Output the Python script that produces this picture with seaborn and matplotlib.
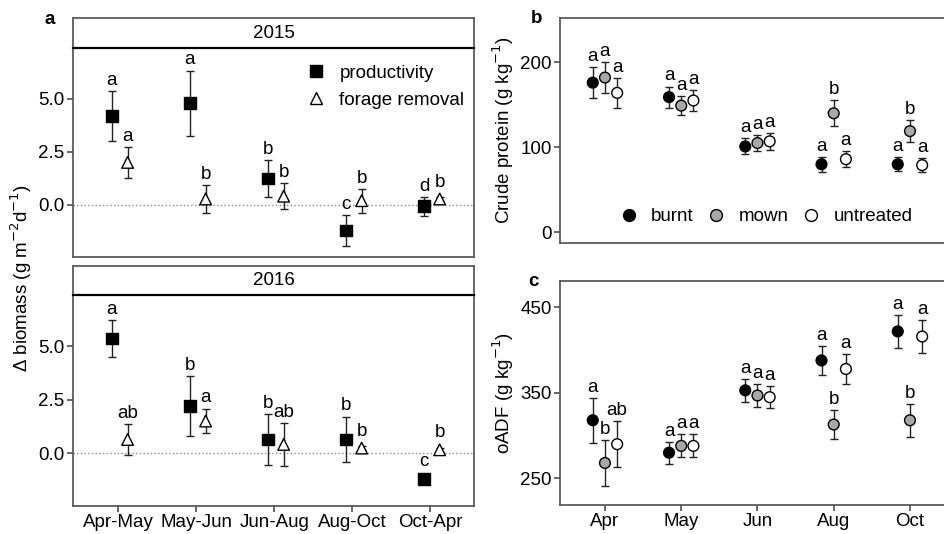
import numpy as np
import pandas as pd
import matplotlib
matplotlib.use("Agg")
import matplotlib.pyplot as plt
import seaborn as sns

periods = ["Apr-May", "May-Jun", "Jun-Aug", "Aug-Oct", "Oct-Apr"]
months = ["Apr", "May", "Jun", "Aug", "Oct"]
treatments = ["burnt", "mown", "untreated"]

# panel a, 2015
prod_2015 = [4.17, 4.78, 1.25, -1.20, -0.06]
prod_2015_err = [1.17, 1.54, 0.87, 0.74, 0.44]
prod_2015_let = ["a", "a", "b", "c", "d"]
rem_2015 = [2.00, 0.28, 0.41, 0.20, 0.28]
rem_2015_err = [0.72, 0.66, 0.62, 0.56, 0.08]
rem_2015_let = ["a", "b", "b", "b", "b"]

# panel a, 2016
prod_2016 = [5.36, 2.21, 0.65, 0.65, -1.18]
prod_2016_err = [0.87, 1.40, 1.20, 1.07, 0.10]
prod_2016_let = ["a", "b", "b", "b", "c"]
rem_2016 = [0.65, 1.51, 0.42, 0.25, 0.17]
rem_2016_err = [0.74, 0.58, 1.00, 0.08, 0.08]
rem_2016_let = ["ab", "a", "ab", "b", "b"]

# panel b, crude protein
cp_burnt = [176, 159, 101, 80, 80]
cp_burnt_err = [18.6, 12.4, 9.4, 8.8, 8.0]
cp_mown = [182, 149, 105, 140, 119]
cp_mown_err = [18.6, 11.3, 9.4, 15.3, 12.7]
cp_untr = [164, 155, 107, 86, 79]
cp_untr_err = [17.5, 11.8, 9.8, 9.4, 8.5]
cp_let = [["a", "a", "a"], ["a", "a", "a"], ["a", "a", "a"], ["a", "b", "a"], ["a", "b", "a"]]

# panel c, oADF
adf_burnt = [318, 280, 353, 388, 422]
adf_burnt_err = [26.5, 13.0, 13.3, 16.6, 19.5]
adf_mown = [268, 288, 347, 313, 318]
adf_mown_err = [26.5, 13.4, 13.0, 17.0, 19.5]
adf_untr = [290, 288, 345, 378, 416]
adf_untr_err = [26.7, 13.4, 13.0, 17.4, 19.5]
adf_let = [["a", "b", "ab"], ["a", "a", "a"], ["a", "a", "a"], ["a", "b", "a"], ["a", "b", "a"]]

sns.set_theme(style="ticks")
plt.rcParams["font.family"] = ["Liberation Sans", "DejaVu Sans"]
plt.rcParams["axes.edgecolor"] = "#555555"
plt.rcParams["xtick.color"] = "#555555"
plt.rcParams["ytick.color"] = "#555555"
plt.rcParams["xtick.labelcolor"] = "black"
plt.rcParams["ytick.labelcolor"] = "black"
plt.rcParams["text.color"] = "black"
plt.rcParams["axes.labelcolor"] = "black"

FS = 13.5


def frame_a(prod, prod_err, prod_let, rem, rem_err, rem_let):
    n = len(periods)
    d = pd.DataFrame({
        "period": periods * 2,
        "series": ["productivity"] * n + ["forage removal"] * n,
        "value": prod + rem,
        "err": prod_err + rem_err,
        "letter": prod_let + rem_let,
    })
    d["x"] = np.tile(np.arange(n), 2) + d["series"].map({"productivity": -0.08, "forage removal": 0.12})
    return d


def frame_bc(vals, errs, lets):
    rows = []
    for t, (v, e) in enumerate(zip(vals, errs)):
        for i in range(len(months)):
            rows.append({"month": months[i], "treatment": treatments[t], "value": v[i],
                         "err": e[i], "letter": lets[i][t], "x": i + (t - 1) * 0.16})
    return pd.DataFrame(rows)


def strip(pos, label):
    s = fig.add_axes(pos)
    s.set_xticks([])
    s.set_yticks([])
    s.text(0.5, 0.5, label, ha="center", va="center", fontsize=FS)
    s.spines["bottom"].set_color("black")
    s.spines["bottom"].set_linewidth(1.6)


def draw_points(ax, d, hue, palette, markers, size, pad):
    ax.errorbar(d["x"], d["value"], yerr=d["err"], fmt="none", ecolor="#222222",
                elinewidth=1, capsize=3, capthick=1, zorder=2)
    sns.scatterplot(data=d, x="x", y="value", hue=hue, style=hue, palette=palette,
                    markers=markers, s=size, edgecolor="black", linewidth=1,
                    zorder=3, ax=ax)
    for _, r in d.iterrows():
        top = max(r["value"] + r["err"], r["value"] + pad)
        ax.annotate(r["letter"], (r["x"], top), xytext=(0, 1.5), textcoords="offset points",
                    ha="center", va="bottom", fontsize=FS)


fig = plt.figure(figsize=(9.44, 5.34), dpi=100)

pal_a = {"productivity": "black", "forage removal": "white"}
mk_a = {"productivity": "s", "forage removal": "^"}
pal_bc = {"burnt": "black", "mown": "#a8a8a8", "untreated": "white"}
mk_bc = {"burnt": "o", "mown": "o", "untreated": "o"}

a_pos = [(0.0773, 0.5187, 0.4248, 0.3914), (0.0773, 0.0524, 0.4248, 0.3951)]
s_pos = [(0.0773, 0.9101, 0.4248, 0.0562), (0.0773, 0.4476, 0.4248, 0.0543)]
a_data = [frame_a(prod_2015, prod_2015_err, prod_2015_let, rem_2015, rem_2015_err, rem_2015_let),
          frame_a(prod_2016, prod_2016_err, prod_2016_let, rem_2016, rem_2016_err, rem_2016_let)]

for k, (year, d) in enumerate(zip(["2015", "2016"], a_data)):
    ax = fig.add_axes(a_pos[k])
    strip(s_pos[k], year)
    ax.axhline(0, color="#888888", linestyle=":", linewidth=1, zorder=1)
    draw_points(ax, d, "series", pal_a, mk_a, 70, 0.3)
    ax.set_xlim(-0.58, 4.56)
    ax.set_ylim(-2.45, 7.38)
    ax.set_yticks([0, 2.5, 5.0])
    ax.set_yticklabels(["0.0", "2.5", "5.0"])
    ax.set_xticks(range(len(periods)))
    ax.set_xlabel("")
    ax.set_ylabel("")
    ax.tick_params(labelsize=FS, length=4, pad=2)
    if k == 0:
        ax.tick_params(axis="x", bottom=False, labelbottom=False)
        sns.move_legend(ax, "upper right", bbox_to_anchor=(1.018, 1.0), frameon=False,
                        title=None, fontsize=FS, handletextpad=0.25, labelspacing=0.5,
                        markerscale=1.1)
    else:
        ax.set_xticklabels(periods)
        ax.get_legend().remove()

fig.text(0.022, 0.48, "Δ biomass (g m$^{-2}$d$^{-1}$)", rotation=90, ha="center",
         va="center", fontsize=FS)

bc_data = [frame_bc([cp_burnt, cp_mown, cp_untr], [cp_burnt_err, cp_mown_err, cp_untr_err], cp_let),
           frame_bc([adf_burnt, adf_mown, adf_untr], [adf_burnt_err, adf_mown_err, adf_untr_err], adf_let)]
bc_pos = [(0.5932, 0.5449, 0.4184, 0.4213), (0.5932, 0.0543, 0.4184, 0.4195)]
bc_ylab = ["Crude protein (g kg$^{-1}$)", "oADF (g kg$^{-1}$)"]
bc_ylim = [(-12.6, 252), (218.8, 481)]
bc_ticks = [[0, 100, 200], [250, 350, 450]]

for k, d in enumerate(bc_data):
    ax = fig.add_axes(bc_pos[k])
    draw_points(ax, d, "treatment", pal_bc, mk_bc, 60, 0)
    ax.set_xlim(-0.59, 4.59)
    ax.set_ylim(*bc_ylim[k])
    ax.set_yticks(bc_ticks[k])
    ax.set_xticks(range(len(months)))
    ax.set_xlabel("")
    ax.set_ylabel(bc_ylab[k], fontsize=FS, labelpad=3)
    ax.tick_params(labelsize=FS, length=4, pad=2)
    if k == 0:
        ax.tick_params(axis="x", bottom=False, labelbottom=False)
        sns.move_legend(ax, "center", bbox_to_anchor=(0.51, 0.117), ncol=3, frameon=False,
                        title=None, fontsize=FS, handletextpad=0.2, columnspacing=0.2,
                        markerscale=1.1)
    else:
        ax.set_xticklabels(months)
        ax.get_legend().remove()

fig.text(0.053, 0.963, "a", fontsize=FS, fontweight="bold", ha="center", va="center")
fig.text(0.568, 0.966, "b", fontsize=FS, fontweight="bold", ha="center", va="center")
fig.text(0.565, 0.472, "c", fontsize=FS, fontweight="bold", ha="center", va="center")

fig.savefig("out.png", dpi=100)
